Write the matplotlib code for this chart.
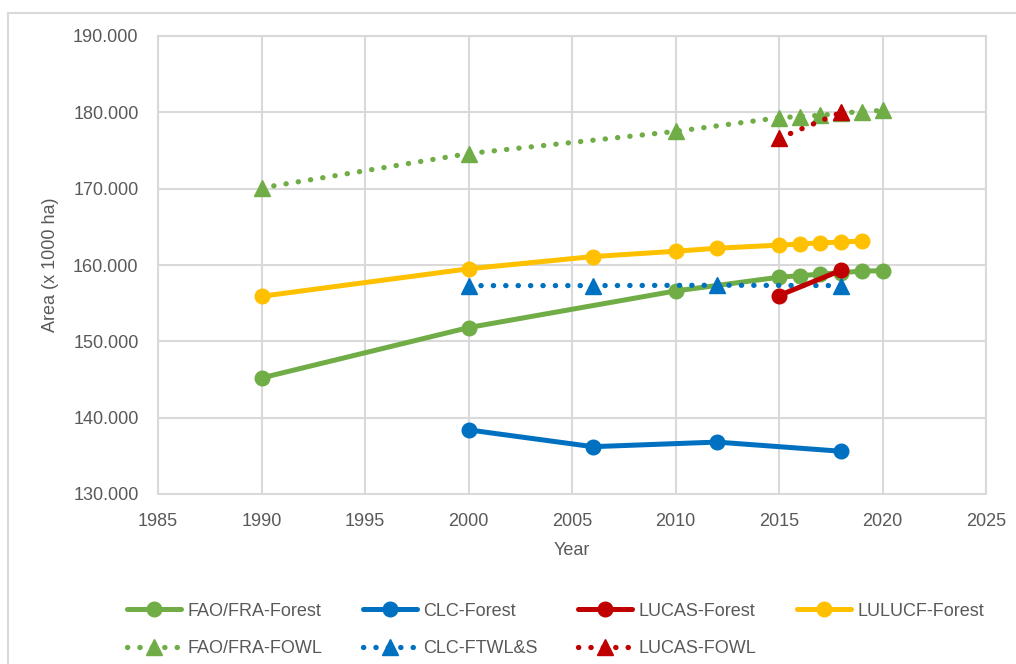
import matplotlib
matplotlib.use("Agg")
import matplotlib.pyplot as plt
from matplotlib.lines import Line2D

plt.rcParams['font.family'] = ['Liberation Sans', 'DejaVu Sans']

# Data
fao_forest_years = [1990, 2000, 2010, 2015, 2016, 2017, 2018, 2019, 2020]
fao_forest_vals = [145.2, 151.8, 156.6, 158.4, 158.6, 158.8, 159.0, 159.2, 159.25]

fao_fowl_years = [1990, 2000, 2010, 2015, 2016, 2017, 2018, 2019, 2020]
fao_fowl_vals = [170.1, 174.6, 177.5, 179.3, 179.45, 179.6, 179.9, 180.1, 180.25]

clc_forest_years = [2000, 2006, 2012, 2018]
clc_forest_vals = [138.4, 136.2, 136.8, 135.6]

clc_ftwl_years = [2000, 2006, 2012, 2018]
clc_ftwl_vals = [157.3, 157.3, 157.35, 157.3]

lucas_forest_years = [2015, 2018]
lucas_forest_vals = [156.0, 159.3]

lucas_fowl_years = [2015, 2018]
lucas_fowl_vals = [176.6, 180.0]

lulucf_years = [1990, 2000, 2006, 2010, 2012, 2015, 2016, 2017, 2018, 2019]
lulucf_vals = [155.9, 159.5, 161.1, 161.8, 162.2, 162.6, 162.75, 162.9, 163.0, 163.15]

x_ticks = [1985, 1990, 1995, 2000, 2005, 2010, 2015, 2020, 2025]
y_ticks = [130, 140, 150, 160, 170, 180, 190]

GREEN = '#70AD47'
BLUE = '#0070C0'
RED = '#C00000'
YELLOW = '#FFC000'
TXT = '#595959'

fig = plt.figure(figsize=(10.16, 6.64), dpi=100)
ax = fig.add_axes([158/1016, 1-494/664, (986-158)/1016, (494-36)/664])

# outer chart border
fig.add_artist(Line2D([8/1016, 8/1016], [0, 1-13/664], color='#D9D9D9', lw=1.5, transform=fig.transFigure))
fig.add_artist(Line2D([8/1016, 1], [1-13/664, 1-13/664], color='#D9D9D9', lw=1.5, transform=fig.transFigure))

solid = dict(lw=3.6, marker='o', markersize=10.5, solid_capstyle='round')
dot = dict(lw=3.8, marker='^', markersize=11.5, linestyle=(0, (0.05, 2.3)), dash_capstyle='round')

h1, = ax.plot(fao_forest_years, fao_forest_vals, color=GREEN, label='FAO/FRA-Forest', **solid)
h2, = ax.plot(fao_fowl_years, fao_fowl_vals, color=GREEN, label='FAO/FRA-FOWL', **dot)
h3, = ax.plot(clc_forest_years, clc_forest_vals, color=BLUE, label='CLC-Forest', **solid)
h4, = ax.plot(clc_ftwl_years, clc_ftwl_vals, color=BLUE, label='CLC-FTWL&S', **dot)
h5, = ax.plot(lucas_forest_years, lucas_forest_vals, color=RED, label='LUCAS-Forest', **solid)
h6, = ax.plot(lucas_fowl_years, lucas_fowl_vals, color=RED, label='LUCAS-FOWL', **dot)
h7, = ax.plot(lulucf_years, lulucf_vals, color=YELLOW, label='LULUCF-Forest', **solid)

ax.set_xlim(1985, 2025)
ax.set_ylim(130, 190)
ax.set_xticks(x_ticks)
ax.set_yticks(y_ticks)
ax.set_yticklabels([f"{v}.000" for v in y_ticks])
ax.grid(True, color='#D9D9D9', lw=1.5)
ax.set_axisbelow(True)
for s in ax.spines.values():
    s.set_color('#D9D9D9')
    s.set_linewidth(1.5)
ax.tick_params(length=0, colors=TXT, labelsize=13)
ax.tick_params(axis='x', pad=14)
ax.tick_params(axis='y', pad=14)
ax.set_xlabel('Year', color=TXT, fontsize=13, labelpad=8)
ax.set_ylabel('Area (x 1000 ha)', color=TXT, fontsize=13, labelpad=10)

leg = fig.legend(handles=[h1, h2, h3, h4, h5, h6, h7], loc='lower left',
                 bbox_to_anchor=(114/1016, -6/664), ncol=4, frameon=False,
                 fontsize=13, handlelength=3.0, handletextpad=0.35,
                 columnspacing=2.25, labelspacing=1.15, labelcolor=TXT,
                 borderaxespad=0.3)

fig.savefig('out.png', dpi=100)
